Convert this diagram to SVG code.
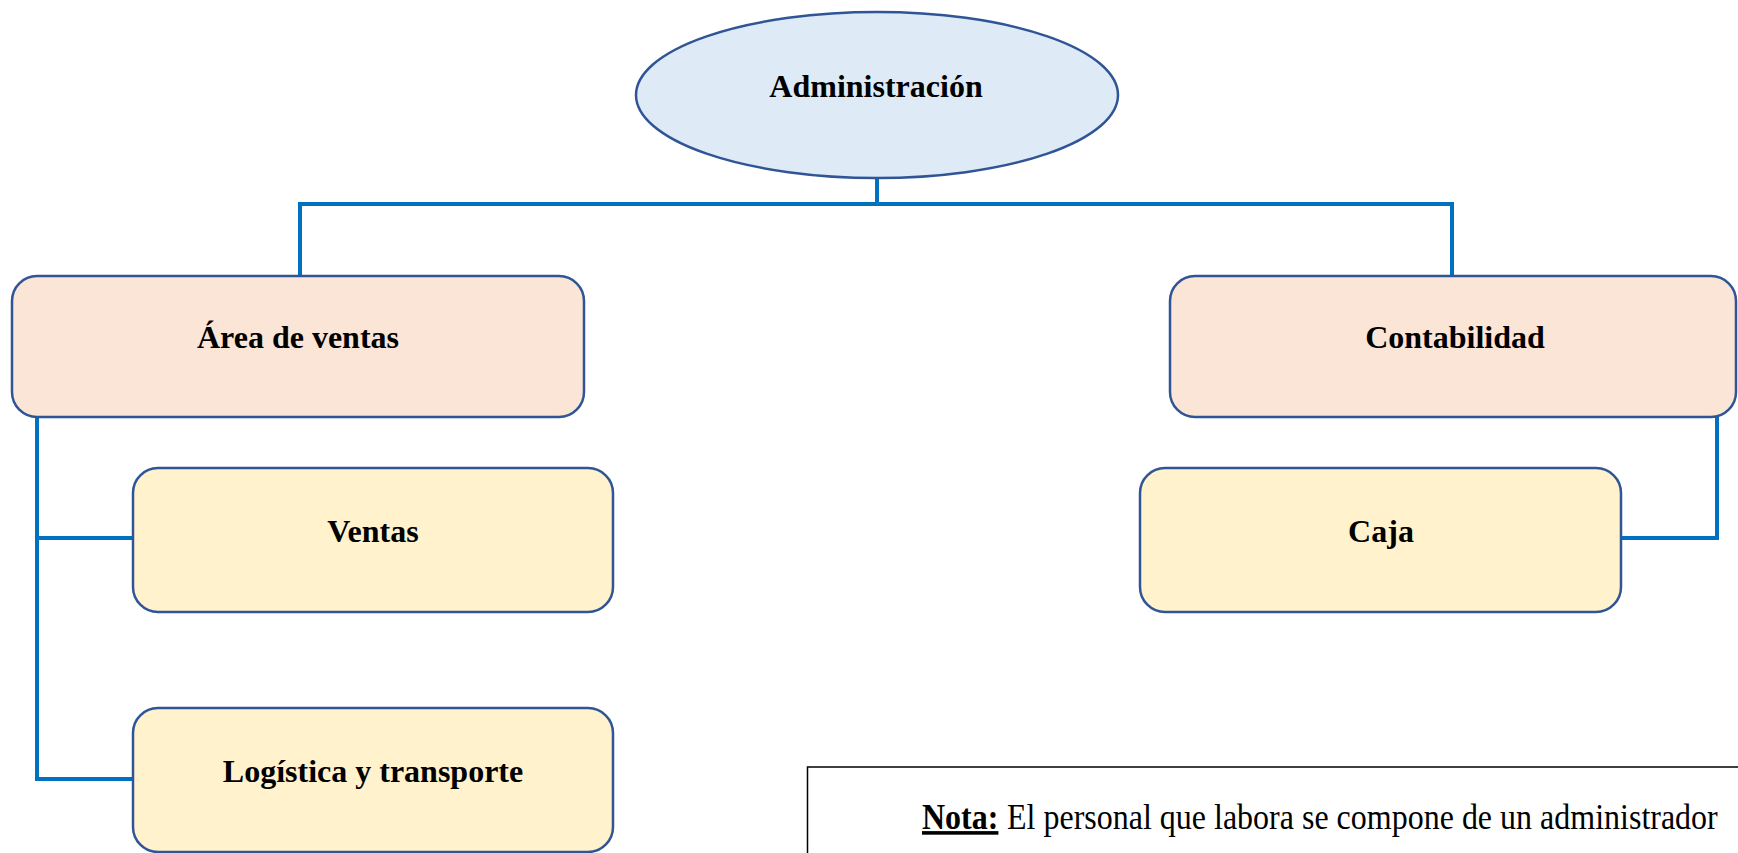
<svg xmlns="http://www.w3.org/2000/svg" width="1738" height="853" viewBox="0 0 1738 853">
<style>
.lbl{font-family:"Liberation Serif","Times New Roman",serif;font-weight:bold;font-size:32px;fill:#000;text-anchor:middle}
.box{stroke:#2F5597;stroke-width:2.5}
.lvl1{fill:#FBE5D6}
.lvl2{fill:#FFF2CC}
.conn{fill:none;stroke:#0070C0;stroke-width:4;stroke-linejoin:miter}
.note{font-family:"Liberation Serif","Times New Roman",serif;font-size:32px;fill:#000}
</style>
<rect width="1738" height="853" fill="#fff"/>
<g id="connectors">
<path class="conn" d="M877 178 V204"/>
<path class="conn" d="M300 276 V204 H1452 V276"/>
<path class="conn" d="M37 417 V779 H133"/>
<path class="conn" d="M37 538 H133"/>
<path class="conn" d="M1717 417 V538 H1621"/>
</g>
<g id="admin">
<ellipse cx="877" cy="95" rx="241" ry="83" fill="#DEEBF7" stroke="#2F5597" stroke-width="2.5"/>
<text class="lbl" x="876" y="97">Administración</text>
</g>
<g id="area-ventas">
<rect class="box lvl1" x="12" y="276" width="572" height="141" rx="25"/>
<text class="lbl" x="298" y="348">Área de ventas</text>
</g>
<g id="contabilidad">
<rect class="box lvl1" x="1170" y="276" width="566" height="141" rx="25"/>
<text class="lbl" x="1455" y="348">Contabilidad</text>
</g>
<g id="ventas">
<rect class="box lvl2" x="133" y="468" width="480" height="144" rx="25"/>
<text class="lbl" x="373" y="542">Ventas</text>
</g>
<g id="caja">
<rect class="box lvl2" x="1140" y="468" width="481" height="144" rx="25"/>
<text class="lbl" x="1381" y="542">Caja</text>
</g>
<g id="logistica">
<rect class="box lvl2" x="133" y="708" width="480" height="144" rx="25"/>
<text class="lbl" x="373" y="782">Logística y transporte</text>
</g>
<g id="nota">
<path d="M1738 767 H807.5 V853" fill="none" stroke="#000" stroke-width="1.5"/>
<g transform="translate(0 829) scale(1 1.12) translate(0 -829)">
<text class="note" x="922" y="829" font-weight="bold" text-decoration="underline">Nota:</text>
<text class="note" x="1007" y="829">El personal que labora se compone de un administrador</text>
</g>
</g>
</svg>
